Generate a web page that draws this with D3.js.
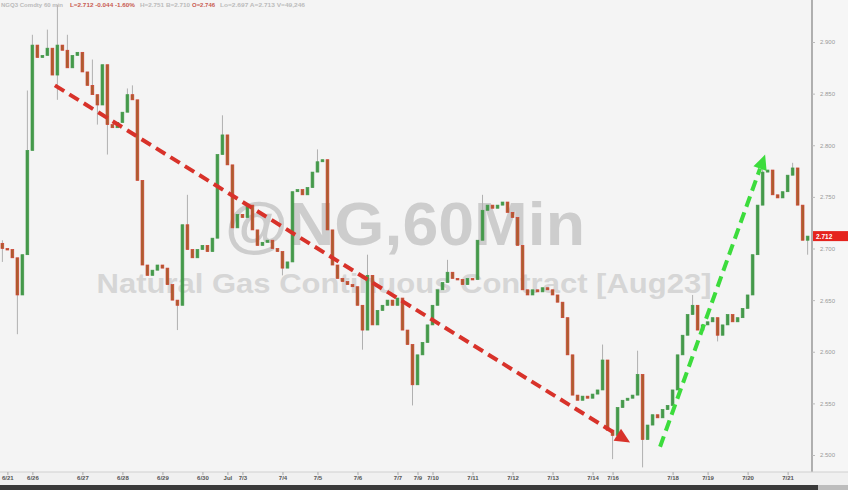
<!DOCTYPE html>
<html><head><meta charset="utf-8">
<script src="https://cdn.jsdelivr.net/npm/d3@7"></script>
<style>html,body{margin:0;padding:0;background:#f4f4f4;}svg{display:block;}</style>
</head><body>
<svg id="c" width="848" height="490"></svg>
<script>
// ---- data (hourly closes, NG Aug23 continuous) ----
const firstOpen = 2.705;
const closes = [
 2.700,2.699,2.691,2.655,2.694,2.795,2.897,2.885,2.887,2.894,
 2.868,2.897,2.892,2.875,2.887,2.890,2.871,2.858,2.849,2.839,
 2.878,2.820,2.817,2.822,2.832,2.849,2.844,2.766,2.684,2.674,
 2.679,2.684,2.681,2.665,2.650,2.645,2.723,2.699,2.691,2.699,
 2.703,2.697,2.710,2.791,2.810,2.781,2.720,2.733,2.730,2.742,
 2.718,2.703,2.706,2.708,2.700,2.697,2.681,2.687,2.755,2.757,
 2.752,2.759,2.774,2.784,2.786,2.718,2.684,2.671,2.668,2.665,
 2.663,2.645,2.621,2.674,2.626,2.640,2.645,2.650,2.645,2.652,
 2.621,2.607,2.568,2.597,2.609,2.626,2.645,2.660,2.667,2.677,
 2.671,2.670,2.665,2.671,2.670,2.708,2.737,2.742,2.739,2.742,
 2.745,2.735,2.730,2.703,2.660,2.655,2.660,2.658,2.662,2.660,
 2.655,2.648,2.633,2.597,2.558,2.553,2.557,2.555,2.559,2.563,
 2.592,2.524,2.519,2.546,2.553,2.555,2.558,2.578,2.515,2.529,
 2.539,2.536,2.544,2.548,2.563,2.597,2.616,2.636,2.645,2.621,
 2.626,2.629,2.633,2.616,2.626,2.636,2.629,2.633,2.642,2.655,
 2.694,2.742,2.774,2.776,2.752,2.749,2.755,2.771,2.778,2.742,
 2.708,2.712
];
// notable wick extremes by candle index
const wickHigh = {0:2.708,5:2.853,6:2.907,9:2.912,11:2.936,13:2.907,18:2.883,25:2.855,26:2.858,
  37:2.752,44:2.829,46:2.747,63:2.796,73:2.694,89:2.689,96:2.752,120:2.607,127:2.601,138:2.655,152:2.786,158:2.783};
const wickLow = {0:2.687,3:2.617,11:2.844,19:2.820,21:2.791,35:2.621,56:2.674,72:2.602,82:2.548,
  122:2.496,128:2.488,143:2.610,161:2.694};
const priceTicks = [2.500,2.550,2.600,2.650,2.700,2.750,2.800,2.850,2.900];
const lastPrice = 2.712;
const dateLabels = [
 {i:1,t:"6/21"},{i:6,t:"6/26"},{i:16,t:"6/27"},{i:24,t:"6/28"},{i:32,t:"6/29"},{i:40,t:"6/30"},
 {i:45,t:"Jul"},{i:48,t:"7/3"},{i:56,t:"7/4"},{i:63,t:"7/5"},{i:71,t:"7/6"},{i:79,t:"7/7"},
 {i:83,t:"7/9"},{i:86,t:"7/10"},{i:94,t:"7/11"},{i:102,t:"7/12"},{i:110,t:"7/13"},{i:118,t:"7/14"},
 {i:122,t:"7/16"},{i:134,t:"7/18"},{i:141,t:"7/19"},{i:149,t:"7/20"},{i:157,t:"7/21"}
];
const trendLines = [
 {color:"#d8322a", i1:10.5, p1:2.858, i2:125.5, p2:2.512},
 {color:"#3cdc3c", i1:131.5, p1:2.508, i2:152.5, p2:2.791}
];
const headerParts = [
 {t:"NGQ3 Comdty  60 min", c:"#bbb", x:1, w:62},
 {t:"L=2.712  -0.044  -1.60%", c:"#c85a50", x:70, w:65},
 {t:"H=2.751  B=2.710", c:"#bbb", x:140, w:50},
 {t:"O=2.746", c:"#c85a50", x:192, w:23},
 {t:"Lo=2.697  A=2.713  V=49,246", c:"#bbb", x:220, w:85}
];

// ---- build ----
const candles = closes.map((c,i)=>({i, o: i===0?firstOpen:closes[i-1], c}));
const svg = d3.select("#c");
const W=848, plotR=812, axisTop=472;
const x = d3.scaleBand().domain(candles.map(d=>d.i)).range([0,810]).paddingInner(0.45).paddingOuter(0.2);
const xc = i => x(i) + x.bandwidth()/2;
const xi = d3.scaleLinear().domain([0,161]).range([xc(0), xc(161)]);
const y = d3.scaleLinear().domain([2.5,2.9]).range([455,42]);

svg.append("rect").attr("width",W).attr("height",490).attr("fill","#f4f4f4");

// watermark
svg.append("text").attr("x",405).attr("y",245).attr("text-anchor","middle")
 .attr("font-family","Liberation Sans, Arial, sans-serif").attr("font-weight","bold")
 .attr("font-size",62).attr("fill","#cdcdcd").attr("textLength",360).attr("lengthAdjust","spacingAndGlyphs")
 .text("@NG,60Min");
svg.append("text").attr("x",404).attr("y",293).attr("text-anchor","middle")
 .attr("font-family","Liberation Sans, Arial, sans-serif").attr("font-weight","bold")
 .attr("font-size",27).attr("fill","#d6d6d6").attr("textLength",615).attr("lengthAdjust","spacingAndGlyphs")
 .text("Natural Gas Continuous Contract [Aug23]");

// candles
const g = svg.append("g");
g.selectAll("line.w").data(candles).join("line").attr("class","w")
 .attr("x1",d=>xc(d.i)).attr("x2",d=>xc(d.i))
 .attr("y1",d=>y(wickHigh[d.i]!==undefined?wickHigh[d.i]:Math.max(d.o,d.c)))
 .attr("y2",d=>y(wickLow[d.i]!==undefined?wickLow[d.i]:Math.min(d.o,d.c)))
 .attr("stroke","#b0b0b0").attr("stroke-width",1);
g.selectAll("rect.b").data(candles).join("rect").attr("class","b")
 .attr("x",d=>x(d.i)).attr("width",x.bandwidth())
 .attr("y",d=>y(Math.max(d.o,d.c)))
 .attr("height",d=>Math.max(1.5,Math.abs(y(d.o)-y(d.c))))
 .attr("fill",d=>d.c>=d.o?"#44994a":"#a8602e")
 .attr("stroke",d=>d.c>=d.o?"#44994a":"#cf4030").attr("stroke-width",0.7);

// trend arrows
trendLines.forEach(t=>{
 const x1=xi(t.i1), y1=y(t.p1), x2=xi(t.i2), y2=y(t.p2);
 const ang=Math.atan2(y2-y1,x2-x1), L=15, Wd=7;
 const bx=x2-L*Math.cos(ang), by=y2-L*Math.sin(ang);
 svg.append("line").attr("x1",x1).attr("y1",y1).attr("x2",bx).attr("y2",by)
  .attr("stroke",t.color).attr("stroke-width",4).attr("stroke-dasharray","11,6");
 const px=-Math.sin(ang), py=Math.cos(ang);
 svg.append("polygon").attr("points",[[x2,y2],[bx+px*Wd,by+py*Wd],[bx-px*Wd,by-py*Wd]].map(p=>p.join(",")).join(" "))
  .attr("fill",t.color);
});

// header
headerParts.forEach(h=>{
 svg.append("text").attr("x",h.x).attr("y",7).attr("font-family","Liberation Sans, Arial, sans-serif")
  .attr("font-weight","bold").attr("font-size",6).attr("fill",h.c)
  .attr("textLength",h.w).attr("lengthAdjust","spacingAndGlyphs").text(h.t);
});

// right axis
svg.append("rect").attr("x",plotR).attr("y",0).attr("width",W-plotR).attr("height",axisTop).attr("fill","#f6f6f6");
svg.append("line").attr("x1",plotR).attr("x2",plotR).attr("y1",0).attr("y2",486).attr("stroke","#999").attr("stroke-width",1.5);
const yAxis = d3.axisRight(y).tickValues(priceTicks).tickFormat(d3.format(".3f")).tickSize(3).tickPadding(5);
const ya = svg.append("g").attr("transform",`translate(${plotR},0)`).call(yAxis);
ya.select(".domain").remove();
ya.selectAll("line").attr("stroke","#bbb");
ya.selectAll("text").attr("font-family","Liberation Sans, Arial, sans-serif").attr("font-size",6).attr("fill","#999");
svg.append("rect").attr("x",plotR+1).attr("y",y(lastPrice)-5).attr("width",W-plotR-1).attr("height",10).attr("fill","#e5231d");
svg.append("text").attr("x",plotR+4).attr("y",y(lastPrice)+2.5).attr("font-family","Liberation Sans, Arial, sans-serif")
 .attr("font-weight","bold").attr("font-size",6.5).attr("fill","#fff").text(d3.format(".3f")(lastPrice));

// bottom axis
svg.append("rect").attr("x",0).attr("y",axisTop).attr("width",W).attr("height",13).attr("fill","#f0f0f0");
svg.append("line").attr("x1",0).attr("x2",W).attr("y1",axisTop).attr("y2",axisTop).attr("stroke","#d0d0d0");
const xAxis = d3.axisBottom(xi).tickValues(dateLabels.map(d=>d.i))
 .tickFormat((d,k)=>dateLabels[k].t).tickSize(3).tickPadding(1);
const xa = svg.append("g").attr("transform",`translate(0,${axisTop})`).call(xAxis);
xa.select(".domain").remove();
xa.selectAll("line").attr("stroke","#aaa");
xa.selectAll("text").attr("font-family","Liberation Sans, Arial, sans-serif").attr("font-weight","bold")
 .attr("font-size",6).attr("fill","#555");
svg.append("rect").attr("x",0).attr("y",485).attr("width",W).attr("height",5).attr("fill","#3a3a3a");
svg.append("rect").attr("x",818).attr("y",485).attr("width",30).attr("height",5).attr("fill","#bdbdbd");
</script>
</body></html>
